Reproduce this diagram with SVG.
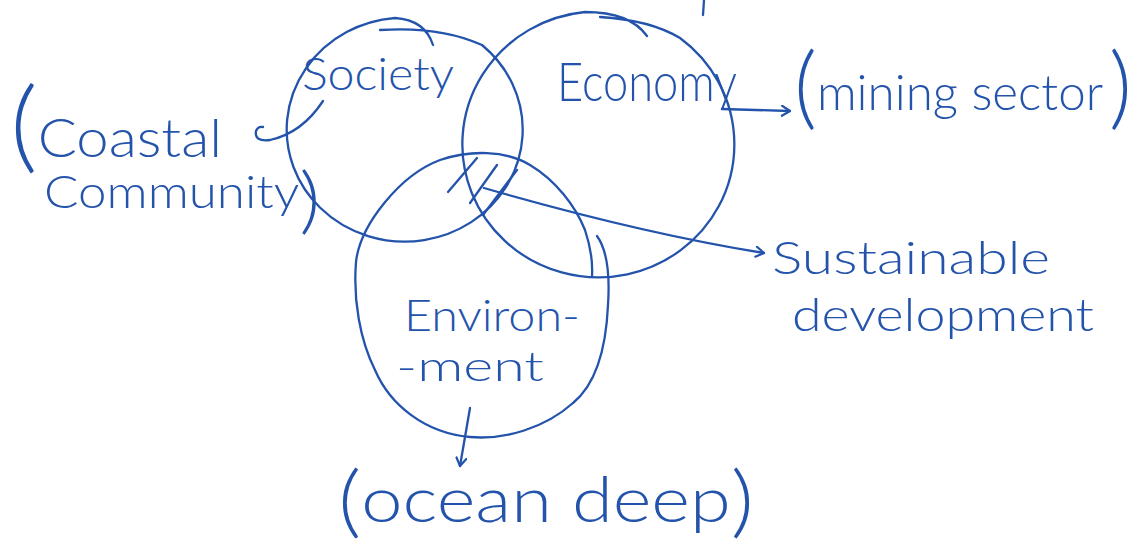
<svg xmlns="http://www.w3.org/2000/svg" width="1139" height="548" viewBox="0 0 1139 548">
<defs>
<style>
.ink{fill:none;stroke:#2353ab;stroke-width:2.3;stroke-linecap:round;stroke-linejoin:round}
.t{fill:#2353ab;font-family:"Lato","Roboto","Liberation Sans",sans-serif;font-weight:300}
</style>
<marker id="ah" viewBox="0 0 12 12" refX="10" refY="6" markerWidth="12" markerHeight="12" markerUnits="userSpaceOnUse" orient="auto">
<path d="M2 1 L10 6 L2 11" fill="none" stroke="#2353ab" stroke-width="2.2" stroke-linecap="round" stroke-linejoin="round"/>
</marker>
</defs>
<rect width="1139" height="548" fill="#ffffff"/>
<path class="ink" d="M704 0 L703 15"/>
<g id="society">
<path class="ink" d="M380 30 Q440 26 482 45 A118 112 0 1 1 395 18 Q425 20 433 45"/>
<text class="t" x="302" y="90" font-size="46" textLength="152" lengthAdjust="spacingAndGlyphs">Society</text>
</g>
<g id="economy">
<path class="ink" d="M600 17 Q650 20 680 38 A136 133 0 1 1 585 12 Q630 12 647 36"/>
<text class="t" x="557" y="101" font-size="54" textLength="180" lengthAdjust="spacingAndGlyphs">Economy</text>
</g>
<g id="environment">
<path class="ink" d="M597 236 C607 250 610 275 608 305 C606 350 595 385 573 403 C545 428 505 440 470 437 C425 433 390 405 375 370 C360 340 353 300 356 262 C360 225 400 175 440 160 C470 150 505 150 530 165 C555 180 575 205 585 230 C590 245 593 260 592 276"/>
<text class="t" x="404" y="331" font-size="44" textLength="176" lengthAdjust="spacingAndGlyphs">Environ-</text>
<text class="t" x="396" y="381" font-size="42" textLength="148" lengthAdjust="spacingAndGlyphs">-ment</text>
</g>
<g id="intersection">
<path class="ink" d="M448 192 L477 158"/>
<path class="ink" d="M470 203 L497 165"/>
<path class="ink" d="M483 215 L517 170"/>
</g>
<g id="coastal-community">
<text class="t" x="10" y="157" textLength="212" lengthAdjust="spacingAndGlyphs"><tspan font-size="100" dy="3">(</tspan><tspan font-size="54" dy="-3">Coastal</tspan></text>
<text class="t" x="44" y="208" textLength="276" lengthAdjust="spacingAndGlyphs"><tspan font-size="46">Community</tspan><tspan font-size="72" dy="17">)</tspan></text>
</g>
<g id="mining-sector">
<text class="t" x="794" y="110" textLength="338" lengthAdjust="spacingAndGlyphs"><tspan font-size="90" dy="8">(</tspan><tspan font-size="50" dy="-8">mining sector</tspan><tspan font-size="90" dy="8" dx="6">)</tspan></text>
</g>
<g id="sustainable-development">
<text class="t" x="772" y="274" font-size="46" textLength="278" lengthAdjust="spacingAndGlyphs">Sustainable</text>
<text class="t" x="792" y="331" font-size="46" textLength="302" lengthAdjust="spacingAndGlyphs">development</text>
</g>
<g id="ocean-deep">
<text class="t" x="338" y="522" textLength="416" lengthAdjust="spacingAndGlyphs"><tspan font-size="78" dy="6">(</tspan><tspan font-size="64" dy="-6">ocean deep</tspan><tspan font-size="78" dy="6">)</tspan></text>
</g>
<g id="connectors">
<path class="ink" d="M323 101 Q302 133 270 140 Q254 142 256 131 Q258 126 263 127"/>
<path class="ink" d="M722 109 L790 111" marker-end="url(#ah)"/>
<path class="ink" d="M484 188 Q640 233 764 253" marker-end="url(#ah)"/>
<path class="ink" d="M470 408 L460 466" marker-end="url(#ah)"/>
</g>
</svg>
